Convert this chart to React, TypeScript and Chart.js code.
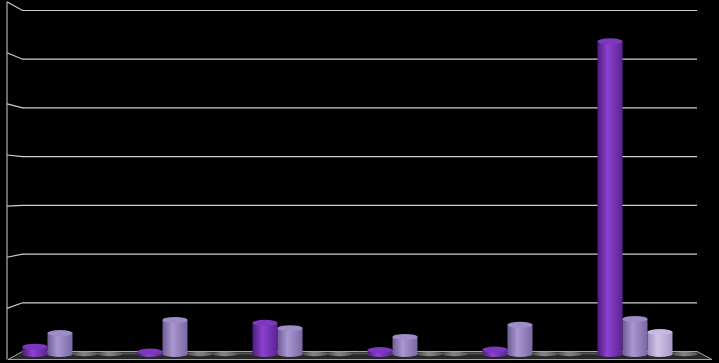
import { useEffect, useRef } from 'react';
import { Chart, registerables } from 'chart.js';

Chart.register(...registerables);

// Six groups, four series each (values in grid units of 10)
const categories = ['A', 'B', 'C', 'D', 'E', 'F'];
const seriesNames = ['Series 1', 'Series 2', 'Series 3', 'Series 4'];
const series1 = [1.5, 0.5, 6.4, 0.8, 0.9, 64.2];
const series2 = [4.3, 7.0, 5.3, 3.5, 6.0, 7.2];
const series3 = [0, 0, 0, 0, 0, 4.5];
const series4 = [0, 0, 0, 0, 0, 0];
const gridTicks = [0, 10, 20, 30, 40, 50, 60, 70];

// Cylinder shading per series: [left edge, highlight, right edge, top cap]
const shades = [
  ['#4e1b7e', '#8c42d0', '#5c2292', '#7c38bc'],
  ['#6c5c96', '#aa97d0', '#7a68a6', '#9e8cc6'],
  ['#9a8aba', '#d0c4e8', '#a898c8', '#c6b9e0'],
  ['#5a5a5a', '#a0a0a0', '#666666', '#8a8a8a'],
];

const scenePlugin = {
  id: 'scene3d',
  beforeDraw(chart: any) {
    const { ctx, width, height } = chart;
    ctx.save();
    ctx.fillStyle = '#000';
    ctx.fillRect(0, 0, width, height);
    ctx.restore();
  },
  beforeDatasetsDraw(chart: any) {
    const { ctx, chartArea } = chart;
    const y = chart.scales.y;
    const wallLeft = chartArea.left + 7.5;
    const wallRight = chartArea.right - 8;
    const sideX = chartArea.left - 8;
    const back = (v: number) => y.getPixelForValue(v) - 2.5;
    const side = (yb: number) => 1.049 * yb - 9.3;

    ctx.save();
    // floor
    const fb = back(0);
    const ff = fb + 8;
    ctx.beginPath();
    ctx.moveTo(wallLeft, fb);
    ctx.lineTo(wallRight, fb);
    ctx.lineTo(chartArea.right + 7, ff);
    ctx.lineTo(sideX + 1, ff);
    ctx.closePath();
    ctx.fillStyle = '#262626';
    ctx.fill();
    ctx.strokeStyle = '#a8a8a8';
    ctx.lineWidth = 1;
    ctx.stroke();
    ctx.beginPath();
    ctx.moveTo(wallLeft, fb + 2);
    ctx.lineTo(wallRight, fb + 2);
    ctx.strokeStyle = '#505050';
    ctx.lineWidth = 2;
    ctx.stroke();

    // back wall gridlines with their side-wall segments
    ctx.strokeStyle = '#cfcfcf';
    ctx.lineWidth = 1.2;
    gridTicks.forEach((v) => {
      if (v === 0) return;
      const yb = back(v);
      ctx.beginPath();
      ctx.moveTo(sideX, side(yb));
      ctx.lineTo(wallLeft, yb);
      ctx.lineTo(wallRight, yb);
      ctx.stroke();
    });

    // left edge of the side wall
    ctx.beginPath();
    ctx.moveTo(sideX, side(back(gridTicks[gridTicks.length - 1])));
    ctx.lineTo(sideX, ff);
    ctx.strokeStyle = '#b0b0b0';
    ctx.lineWidth = 1.2;
    ctx.stroke();
    ctx.restore();
  },
  afterDatasetsDraw(chart: any) {
    const { ctx } = chart;
    ctx.save();
    chart.data.datasets.forEach((ds: any, i: number) => {
      const meta = chart.getDatasetMeta(i);
      const [edgeL, mid, edgeR, cap] = shades[i];
      meta.data.forEach((bar: any, j: number) => {
        const { x, y, base, width } = bar.getProps(['x', 'y', 'base', 'width'], true);
        const left = x - width / 2;
        const rx = width / 2;
        const ry = 3;
        const grad = ctx.createLinearGradient(left, 0, left + width, 0);
        grad.addColorStop(0, edgeL);
        grad.addColorStop(0.4, mid);
        grad.addColorStop(1, edgeR);

        if (ds.data[j] === 0) {
          // empty value: flat disc on the floor
          const g0 = ctx.createLinearGradient(left, 0, left + width, 0);
          g0.addColorStop(0, '#505050');
          g0.addColorStop(0.45, '#858585');
          g0.addColorStop(1, '#5a5a5a');
          ctx.beginPath();
          ctx.ellipse(x, base, rx, 2.2, 0, 0, Math.PI * 2);
          ctx.fillStyle = g0;
          ctx.fill();
          return;
        }

        // body with rounded bottom
        ctx.beginPath();
        ctx.moveTo(left, y);
        ctx.lineTo(left, base);
        ctx.ellipse(x, base, rx, ry, 0, Math.PI, 0, true);
        ctx.lineTo(left + width, y);
        ctx.closePath();
        ctx.fillStyle = grad;
        ctx.fill();

        // top cap
        ctx.beginPath();
        ctx.ellipse(x, y, rx, ry, 0, 0, Math.PI * 2);
        ctx.fillStyle = cap;
        ctx.fill();
      });
    });
    ctx.restore();
  },
};

export default function App() {
  const ref = useRef<HTMLCanvasElement | null>(null);

  useEffect(() => {
    if (!ref.current) return;
    const allSeries = [series1, series2, series3, series4];
    const chart = new Chart(ref.current, {
      type: 'bar',
      data: {
        labels: categories,
        datasets: allSeries.map((data, i) => ({
          label: seriesNames[i],
          data,
          backgroundColor: 'rgba(0,0,0,0)',
          borderWidth: 0,
          categoryPercentage: 0.8696,
          barPercentage: 1,
        })),
      },
      options: {
        animation: false,
        responsive: false,
        devicePixelRatio: 1,
        layout: { padding: { left: 15, right: 14, top: 13, bottom: 9 } },
        plugins: { legend: { display: false }, tooltip: { enabled: false } },
        scales: {
          x: { display: false },
          y: { display: false, min: 0, max: 70 },
        },
      },
      plugins: [scenePlugin],
    });
    return () => chart.destroy();
  }, []);

  return (
    <div style={{ position: 'fixed', left: 0, top: 0, width: 719, height: 363, background: '#000' }}>
      <canvas ref={ref} width={719} height={363} style={{ display: 'block' }} />
    </div>
  );
}
